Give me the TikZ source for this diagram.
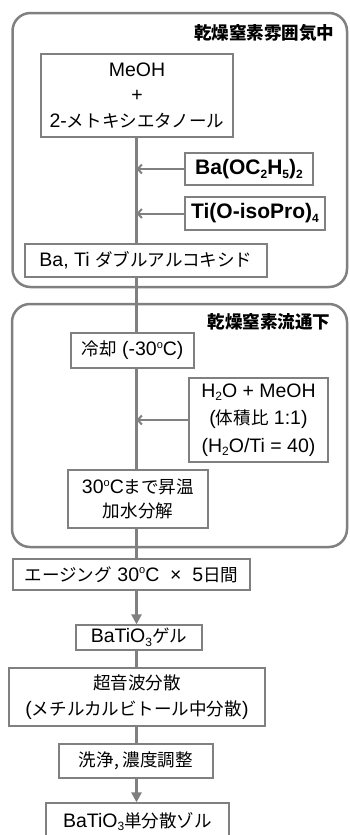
\documentclass[tikz,border=0pt]{standalone}
\usepackage{fontspec}
\setmainfont{Liberation Sans}
\newfontfamily\jp{Noto Sans CJK JP}[Scale=0.9]
\usetikzlibrary{arrows.meta}
\definecolor{ln}{HTML}{808080}
\newcommand{\sbs}[1]{\raisebox{-0.35ex}{\fontsize{12}{12}\selectfont #1}}
\newcommand{\dg}{\raisebox{0.75ex}{\fontsize{11}{11}\selectfont o}}
\begin{document}
\begin{tikzpicture}[x=1pt,y=-1pt,
  font=\fontsize{19.5}{25.5}\selectfont,
  box/.style={draw=ln, line width=1.3pt, inner sep=0pt, align=center, fill=white},
  frame/.style={draw=ln, line width=2.5pt, rounded corners=18pt, inner sep=0pt},
  title/.style={anchor=east, font=\fontsize{19.5}{22}\selectfont\jp\bfseries},
  link/.style={draw=ln, line width=2.5pt},
  feed/.style={draw=ln, line width=2pt, -{Straight Barb[length=4pt,width=9pt]}},
  flow/.style={draw=ln, line width=2.5pt, -{Triangle[length=10pt,width=10pt]}}]
\useasboundingbox (0,0) rectangle (349,835);
\coordinate (spine) at (136.5,0);
% frames
\node[frame, minimum width=334.5pt, minimum height=274pt] (f1) at (179.75,150) {};
\node[frame, minimum width=335pt, minimum height=243pt] (f2) at (179.5,425.5) {};
\node[title] (t1) at (338,33) {乾燥窒素雰囲気中};
\node[title] (t2) at (334,322) {乾燥窒素流通下};
% boxes
\node[box, minimum width=192pt, minimum height=83pt] (meoh) at (137,95.5)
  {MeOH\\+\\2-{\jp メトキシエタノール}};
\node[box, minimum width=128pt, minimum height=32pt] (ba) at (249,169)
  {\fontsize{21}{24}\selectfont\bfseries Ba(OC\sbs{2}H\sbs{5})\sbs{2}};
\node[box, minimum width=140pt, minimum height=33pt] (ti) at (255,213.5)
  {\fontsize{21}{24}\selectfont\bfseries Ti(O-isoPro)\sbs{4}};
\node[box, minimum width=242pt, minimum height=33pt] (alk) at (146,260.5)
  {Ba, Ti {\jp ダブルアルコキシド}};
\node[box, minimum width=123pt, minimum height=35pt] (cool) at (132.5,350.5)
  {{\jp 冷却} (-30\dg C)};
\node[box, minimum width=139pt, minimum height=84pt] (water) at (258.5,420)
  {H\sbs{2}O + MeOH\\[2pt]({\jp 体積比} 1:1)\\[2pt](H\sbs{2}O/Ti = 40)};
\node[box, minimum width=140pt, minimum height=58pt] (heat) at (138,499)
  {30\dg C{\jp まで昇温}\\[-2pt]{\jp 加水分解}};
\node[box, minimum width=237pt, minimum height=31pt] (age) at (131.5,574.5)
  {{\jp エージング} 30\dg C\ \ ×\ \ 5{\jp 日間}};
\node[box, minimum width=126pt, minimum height=25pt] (gel) at (139,637.5)
  {BaTiO\sbs{3}{\jp ゲル}};
\node[box, minimum width=256pt, minimum height=58pt] (ultra) at (137,697)
  {{\jp 超音波分散}\\[1pt]({\jp メチルカルビトール中分散})};
\node[box, minimum width=154pt, minimum height=34pt] (wash) at (136,761)
  {{\jp 洗浄, 濃度調整}};
\node[box, minimum width=183pt, minimum height=37pt] (sol) at (137.5,821.5)
  {BaTiO\sbs{3}{\jp 単分散ゾル}};
% connectors
\draw[link] (meoh.south -| spine) -- (alk.north -| spine);
\draw[feed] (ba.west) -- (ba.west -| spine);
\draw[feed] (ti.west) -- (ti.west -| spine);
\draw[link] (alk.south -| spine) -- (cool.north -| spine);
\draw[link] (cool.south -| spine) -- (heat.north -| spine);
\draw[feed] (water.west) -- (water.west -| spine);
\draw[link] (heat.south -| spine) -- (age.north -| spine);
\draw[flow] (age.south -| spine) -- (gel.north -| spine);
\draw[link] (gel.south -| spine) -- (ultra.north -| spine);
\draw[link] (ultra.south -| spine) -- (wash.north -| spine);
\draw[flow] (wash.south -| spine) -- (sol.north -| spine);
\end{tikzpicture}
\end{document}
